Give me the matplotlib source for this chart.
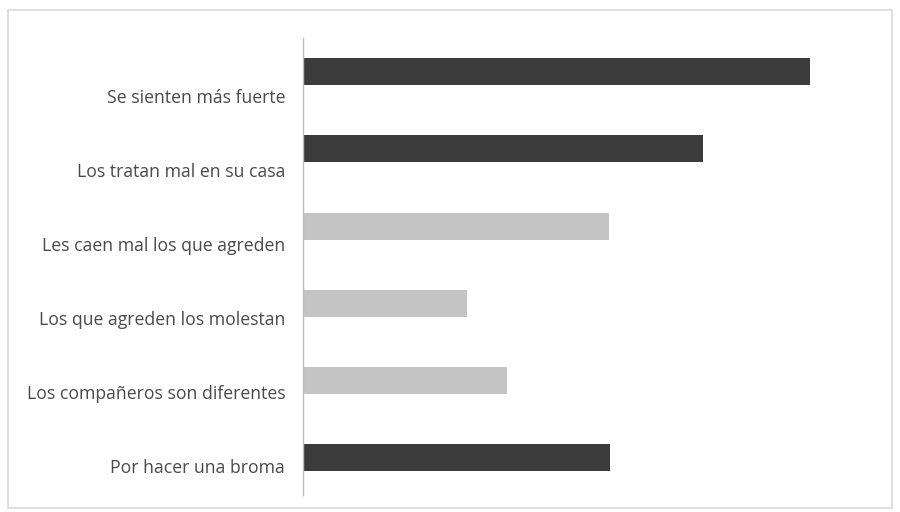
import matplotlib.pyplot as plt
from matplotlib.patches import Rectangle

# motivos y su peso relativo
motivos = [
    "Se sienten más fuerte",
    "Los tratan mal en su casa",
    "Les caen mal los que agreden",
    "Los que agreden los molestan",
    "Los compañeros son diferentes",
    "Por hacer una broma",
]
valores = [50.0, 39.5, 30.2, 16.2, 20.1, 30.3]
colores = ["#3b3b3b", "#3b3b3b", "#c4c4c4", "#c4c4c4", "#c4c4c4", "#3b3b3b"]

plt.rcParams['font.family'] = ['Open Sans', 'DejaVu Sans']

fig = plt.figure(figsize=(9, 5.12), dpi=100)
ax = fig.add_axes([0.337, 0.033, 0.63, 0.893])

pos = list(range(len(motivos)))
ax.barh(pos, valores, height=0.35, color=colores, edgecolor="none")

# las etiquetas quedan algo por debajo de cada barra
pos_etiquetas = [0.31 + 0.96 * i for i in pos]
ax.set_yticks(pos_etiquetas)
ax.set_yticklabels(motivos, fontsize=12.7, color="#4a4a4a")
ax.tick_params(axis="y", length=0, pad=13)
ax.set_xticks([])

ax.set_ylim(5.49, -0.44)
ax.set_xlim(0, 56.0)

for lado in ["top", "right", "bottom"]:
    ax.spines[lado].set_visible(False)
ax.spines["left"].set_color("#bdbdbd")
ax.spines["left"].set_linewidth(1.0)

# marco del gráfico
fig.patches.append(Rectangle((0.009, 0.008), 0.982, 0.972, transform=fig.transFigure,
                             fill=False, edgecolor="#d9d9d9", linewidth=1.2))

fig.savefig("out.png", dpi=100, facecolor="white")
